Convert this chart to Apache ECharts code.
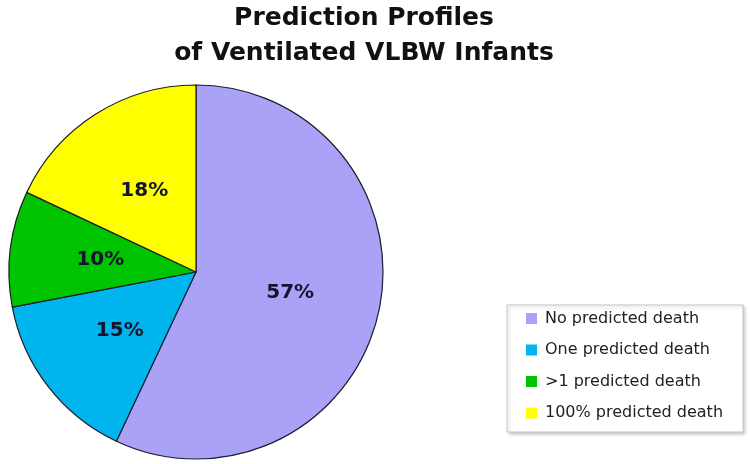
<!DOCTYPE html>
<html>
<head>
<meta charset="utf-8">
<script src="https://cdn.jsdelivr.net/npm/echarts@6/dist/echarts.min.js"></script>
<style>
  html, body { margin: 0; padding: 0; background: #fff; }
  #chart { width: 750px; height: 464px; }
</style>
</head>
<body>
<div id="chart"></div>
<script>
// data
const categories = ['No predicted death', 'One predicted death', '>1 predicted death', '100% predicted death']
const values = [57, 15, 10, 18]
const sliceColors = ['#a9a2f7', '#00b4ee', '#00c400', '#ffff00']

const chart = echarts.init(document.getElementById('chart'))

const option = {
  backgroundColor: '#fff',
  animation: false,
  title: {
    text: 'Prediction Profiles\nof Ventilated VLBW Infants',
    left: 364,
    top: 1,
    textAlign: 'center',
    padding: 0,
    textStyle: {
      fontFamily: 'DejaVu Sans',
      fontWeight: 'bold',
      fontSize: 25,
      lineHeight: 35,
      color: '#111'
    }
  },
  legend: {
    orient: 'vertical',
    left: 507,
    top: 305,
    padding: [4.5, 20, 10, 19],
    itemWidth: 11,
    itemHeight: 11,
    itemGap: 13.5,
    icon: 'rect',
    itemStyle: { borderWidth: 0 },
    backgroundColor: '#fff',
    borderColor: '#c4c4c4',
    borderWidth: 1,
    shadowColor: 'rgba(0,0,0,0.2)',
    shadowBlur: 3,
    shadowOffsetX: 2,
    shadowOffsetY: 2,
    textStyle: {
      fontFamily: 'DejaVu Sans',
      fontSize: 16,
      lineHeight: 18,
      color: '#222',
      padding: [0, 0, 0, 3]
    },
    data: categories
  },
  series: [
    {
      type: 'pie',
      center: [196, 272],
      radius: 187,
      startAngle: 90,
      clockwise: true,
      silent: true,
      itemStyle: {
        borderColor: '#1c1c2e',
        borderWidth: 1.2
      },
      label: {
        show: true,
        position: 'inside',
        formatter: '{c}%',
        fontFamily: 'DejaVu Sans',
        fontWeight: 'bold',
        fontSize: 20,
        color: '#15152e'
      },
      labelLine: { show: false },
      data: categories.map((name, i) => ({
        name: name,
        value: values[i],
        itemStyle: { color: sliceColors[i] }
      }))
    }
  ]
}

chart.setOption(option)
</script>
</body>
</html>
